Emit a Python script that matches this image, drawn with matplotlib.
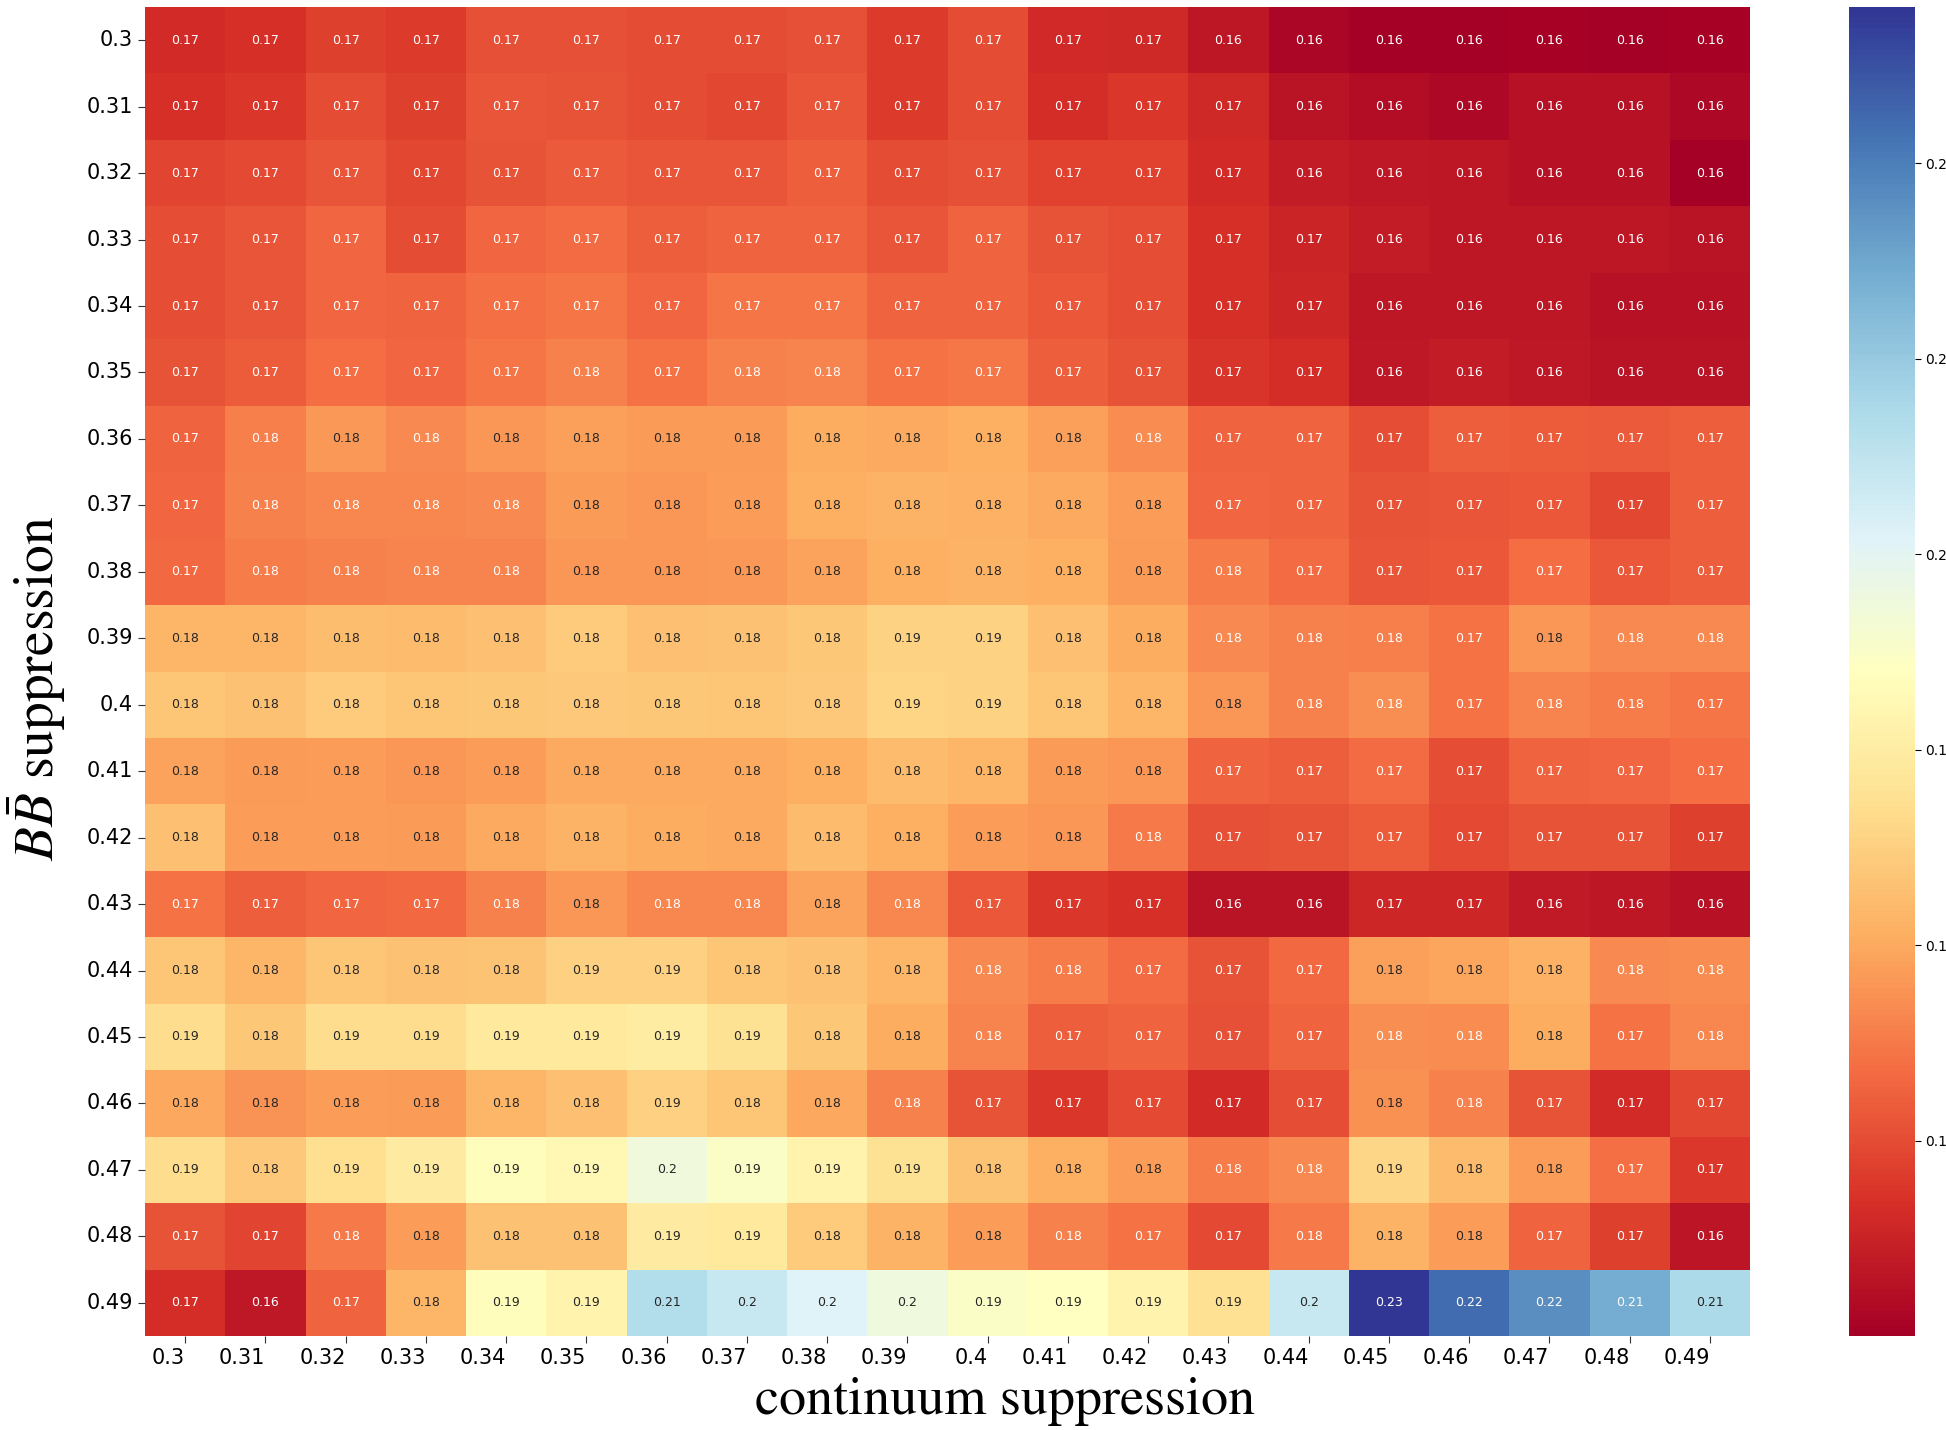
import matplotlib
matplotlib.use("Agg")
import matplotlib.pyplot as plt
import seaborn as sns
import numpy as np

# ---- data ----
bb_labels = ["0.3", "0.31", "0.32", "0.33", "0.34", "0.35", "0.36", "0.37", "0.38", "0.39",
             "0.4", "0.41", "0.42", "0.43", "0.44", "0.45", "0.46", "0.47", "0.48", "0.49"]
cont_labels = ["0.3", "0.31", "0.32", "0.33", "0.34", "0.35", "0.36", "0.37", "0.38", "0.39",
               "0.4", "0.41", "0.42", "0.43", "0.44", "0.45", "0.46", "0.47", "0.48", "0.49"]

r0 = [0.1662, 0.1668, 0.1685, 0.1680, 0.1705, 0.1705, 0.1700, 0.1700, 0.1705, 0.1680, 0.1700, 0.1660, 0.1658, 0.1634, 0.1608, 0.1600, 0.1602, 0.1603, 0.1602, 0.1604]
r1 = [0.1668, 0.1675, 0.1700, 0.1685, 0.1710, 0.1708, 0.1700, 0.1695, 0.1710, 0.1680, 0.1700, 0.1666, 0.1675, 0.1658, 0.1627, 0.1620, 0.1612, 0.1624, 0.1624, 0.1612]
r2 = [0.1692, 0.1697, 0.1710, 0.1693, 0.1708, 0.1715, 0.1710, 0.1710, 0.1720, 0.1700, 0.1705, 0.1688, 0.1688, 0.1663, 0.1640, 0.1637, 0.1632, 0.1624, 0.1624, 0.1600]
r3 = [0.1703, 0.1709, 0.1730, 0.1700, 0.1728, 0.1735, 0.1720, 0.1725, 0.1727, 0.1710, 0.1725, 0.1707, 0.1703, 0.1667, 0.1653, 0.1640, 0.1634, 0.1634, 0.1632, 0.1628]
r4 = [0.1702, 0.1709, 0.1728, 0.1727, 0.1740, 0.1746, 0.1730, 0.1744, 0.1746, 0.1725, 0.1726, 0.1712, 0.1703, 0.1667, 0.1655, 0.1634, 0.1634, 0.1632, 0.1624, 0.1625]
r5 = [0.1708, 0.1718, 0.1737, 0.1730, 0.1745, 0.1757, 0.1741, 0.1758, 0.1760, 0.1743, 0.1747, 0.1720, 0.1707, 0.1672, 0.1665, 0.1637, 0.1640, 0.1637, 0.1628, 0.1628]
r6 = [0.1725, 0.1755, 0.1782, 0.1765, 0.1780, 0.1790, 0.1785, 0.1785, 0.1802, 0.1800, 0.1805, 0.1790, 0.1768, 0.1727, 0.1725, 0.1703, 0.1720, 0.1718, 0.1715, 0.1720]
r7 = [0.1730, 0.1758, 0.1763, 0.1763, 0.1765, 0.1785, 0.1780, 0.1788, 0.1805, 0.1810, 0.1808, 0.1800, 0.1786, 0.1729, 0.1726, 0.1707, 0.1710, 0.1713, 0.1693, 0.1720]
r8 = [0.1732, 0.1752, 0.1758, 0.1762, 0.1760, 0.1780, 0.1780, 0.1782, 0.1793, 0.1805, 0.1812, 0.1805, 0.1785, 0.1752, 0.1734, 0.1709, 0.1712, 0.1738, 0.1712, 0.1720]
r9 = [0.1815, 0.1814, 0.1825, 0.1822, 0.1828, 0.1843, 0.1826, 0.1830, 0.1838, 0.1855, 0.1853, 0.1827, 0.1803, 0.1765, 0.1757, 0.1755, 0.1742, 0.1780, 0.1767, 0.1765]
r10 = [0.1835, 0.1830, 0.1842, 0.1836, 0.1838, 0.1840, 0.1839, 0.1835, 0.1840, 0.1856, 0.1855, 0.1836, 0.1815, 0.1778, 0.1758, 0.1772, 0.1742, 0.1760, 0.1753, 0.1744]
r11 = [0.1793, 0.1785, 0.1788, 0.1780, 0.1786, 0.1800, 0.1800, 0.1801, 0.1807, 0.1822, 0.1814, 0.1785, 0.1780, 0.1727, 0.1722, 0.1734, 0.1702, 0.1727, 0.1730, 0.1736]
r12 = [0.1826, 0.1786, 0.1786, 0.1784, 0.1800, 0.1810, 0.1804, 0.1800, 0.1822, 0.1805, 0.1788, 0.1778, 0.1751, 0.1705, 0.1707, 0.1717, 0.1698, 0.1707, 0.1707, 0.1685]
r13 = [0.1742, 0.1722, 0.1730, 0.1731, 0.1758, 0.1778, 0.1763, 0.1763, 0.1793, 0.1763, 0.1712, 0.1677, 0.1667, 0.1628, 0.1628, 0.1655, 0.1655, 0.1638, 0.1634, 0.1624]
r14 = [0.1836, 0.1815, 0.1836, 0.1830, 0.1833, 0.1852, 0.1852, 0.1836, 0.1829, 0.1815, 0.1765, 0.1752, 0.1735, 0.1707, 0.1731, 0.1790, 0.1795, 0.1808, 0.1765, 0.1770]
r15 = [0.1870, 0.1839, 0.1870, 0.1870, 0.1890, 0.1890, 0.1900, 0.1877, 0.1839, 0.1802, 0.1760, 0.1722, 0.1725, 0.1705, 0.1725, 0.1772, 0.1770, 0.1803, 0.1741, 0.1764]
r16 = [0.1797, 0.1777, 0.1786, 0.1784, 0.1815, 0.1828, 0.1852, 0.1836, 0.1797, 0.1758, 0.1707, 0.1676, 0.1697, 0.1662, 0.1702, 0.1775, 0.1757, 0.1708, 0.1662, 0.1695]
r17 = [0.1870, 0.1841, 0.1872, 0.1895, 0.1935, 0.1925, 0.1972, 0.1948, 0.1915, 0.1877, 0.1832, 0.1805, 0.1788, 0.1753, 0.1765, 0.1858, 0.1823, 0.1788, 0.1740, 0.1679]
r18 = [0.1708, 0.1692, 0.1751, 0.1788, 0.1830, 0.1829, 0.1895, 0.1890, 0.1842, 0.1810, 0.1787, 0.1758, 0.1742, 0.1697, 0.1751, 0.1810, 0.1787, 0.1725, 0.1685, 0.1630]
r19 = [0.1665, 0.1637, 0.1727, 0.1814, 0.1935, 0.1915, 0.2065, 0.2040, 0.2008, 0.1976, 0.1948, 0.1942, 0.1915, 0.1874, 0.2040, 0.2280, 0.2220, 0.2180, 0.2143, 0.2075]

cbar_ticks = [0.17, 0.18, 0.19, 0.20, 0.21, 0.22]

values = np.array([r0, r1, r2, r3, r4, r5, r6, r7, r8, r9,
                   r10, r11, r12, r13, r14, r15, r16, r17, r18, r19])

plt.rcParams["mathtext.fontset"] = "stix"

W, H = 1946, 1430
fig = plt.figure(figsize=(W / 100, H / 100), dpi=100)
ax_l, ax_r, ax_t, ax_b = 145, 1750, 7, 1336
ax = fig.add_axes([ax_l / W, 1 - ax_b / H, (ax_r - ax_l) / W, (ax_b - ax_t) / H])
cax = fig.add_axes([1849 / W, 1 - ax_b / H, 66 / W, (ax_b - ax_t) / H])

sns.heatmap(values, ax=ax, cbar_ax=cax, cmap="RdYlBu", annot=True, fmt=".2g",
            annot_kws={"size": 9}, xticklabels=cont_labels, yticklabels=bb_labels)

ax.tick_params(axis="both", labelsize=15, length=5, color="#333333")
plt.setp(ax.get_xticklabels(), rotation=0, ha="right")
plt.setp(ax.get_yticklabels(), rotation=0)

ax.set_xlabel("continuum suppression", fontsize=39, family="STIXGeneral")
ax.set_ylabel(r"$B\bar{B}$ suppression", fontsize=40, family="STIXGeneral")
ax.xaxis.set_label_coords(0.536, -0.031)
ax.yaxis.set_label_coords((37 - ax_l) / (ax_r - ax_l), 0.4876)
ax.yaxis.label.set_verticalalignment("center")

cax.set_yticks(cbar_ticks)
cax.set_yticklabels([f"{t:.2f}" for t in cbar_ticks])
cax.tick_params(labelsize=10, length=4)

fig.savefig("out.png", dpi=100)
